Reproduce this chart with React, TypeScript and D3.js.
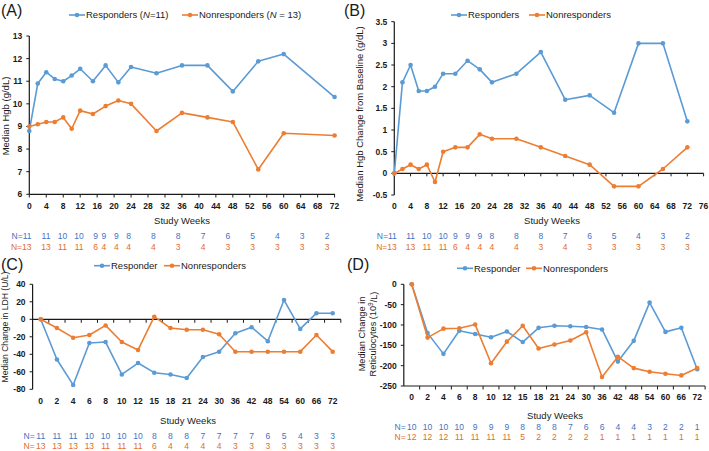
import React from 'react';
import * as d3 from 'd3';

const BLUE = '#5B9BD5';
const ORANGE = '#ED7D31';
const NBLUE = '#4472C4';
const NORANGE = '#E36C2B';
const FONT = '"Liberation Sans", Arial, sans-serif';
const INK = '#1a1a1a';

// ---------- Panel A: median Hgb ----------
const weeksA = [0, 2, 4, 6, 8, 10, 12, 15, 18, 21, 24, 30, 36, 42, 48, 54, 60, 72];
const hgbResp = [8.8, 10.9, 11.4, 11.1, 11.0, 11.25, 11.55, 11.0, 11.7, 10.95, 11.63, 11.35, 11.7, 11.7, 10.55, 11.88, 12.2, 10.3];
const hgbNonresp = [9.0, 9.1, 9.2, 9.2, 9.4, 8.9, 9.7, 9.55, 9.9, 10.15, 10.0, 8.8, 9.6, 9.4, 9.2, 7.1, 8.7, 8.6];
const yTicksA = [6, 7, 8, 9, 10, 11, 12, 13];
const xTicksA = d3.range(0, 73, 4);

// ---------- Panel B: median Hgb change ----------
const weeksB = [0, 2, 4, 6, 8, 10, 12, 15, 18, 21, 24, 30, 36, 42, 48, 54, 60, 66, 72];
const chgResp = [0, 2.1, 2.5, 1.9, 1.9, 2.0, 2.3, 2.3, 2.6, 2.4, 2.1, 2.3, 2.8, 1.7, 1.8, 1.4, 3.0, 3.0, 1.2];
const chgNonresp = [0, 0.1, 0.2, 0.1, 0.2, -0.2, 0.5, 0.6, 0.6, 0.9, 0.8, 0.8, 0.6, 0.4, 0.2, -0.3, -0.3, 0.1, 0.6];
const yTicksB = [-0.5, 0, 0.5, 1, 1.5, 2, 2.5, 3, 3.5];
const xTicksB = d3.range(0, 77, 4);

// N rows for A and B
const nWeeksA = [0, 4, 8, 12, 16, 18, 21, 24, 30, 36, 42, 48, 54, 60, 66, 72];
const nWeeksB = [0, 4, 8, 12, 15, 18, 21, 24, 30, 36, 42, 48, 54, 60, 66, 72];
const nRespAB = ['11', '11', '10', '10', '9', '9', '9', '8', '8', '8', '7', '6', '5', '4', '3', '2'];
const nNonAB = ['13', '13', '11', '11', '6', '4', '4', '4', '4', '3', '4', '3', '3', '3', '3', '3'];

// ---------- Panels C and D: categorical weeks ----------
const catWeeks = ['0', '2', '4', '6', '8', '10', '12', '15', '18', '21', '24', '30', '36', '42', '48', '54', '60', '66', '72'];
const ldhResp = [0, -46, -75, -27, -26, -63, -50, -61, -63, -67, -43, -37, -16, -9, -25, 22, -11, 7, 7];
const ldhNonresp = [0, -10, -21, -18, -7, -26, -35, 3, -10, -12, -12, -17, -37, -37, -37, -37, -37, -18, -37];
const yTicksC = [-80, -60, -40, -20, 0, 20, 40];
const nRespC = ['11', '11', '11', '10', '10', '10', '10', '8', '8', '8', '7', '7', '7', '7', '6', '5', '4', '3', '3'];
const nNonC = ['13', '13', '13', '13', '11', '11', '11', '6', '4', '4', '4', '4', '3', '3', '3', '3', '3', '3', '3'];

const retResp = [0, -120, -171, -114, -122, -130, -116, -142, -107, -102, -103, -105, -111, -190, -139, -45, -117, -107, -209];
const retNonresp = [0, -131, -109, -108, -99, -194, -141, -102, -158, -148, -138, -118, -228, -178, -206, -215, -220, -224, -206];
const yTicksD = [-250, -200, -150, -100, -50, 0];
const nRespD = ['10', '10', '10', '10', '9', '9', '9', '8', '8', '8', '7', '6', '6', '4', '4', '3', '2', '2', '1'];
const nNonD = ['12', '12', '12', '11', '11', '11', '11', '5', '2', '2', '2', '2', '1', '1', '1', '1', '1', '1', '1'];

type Sc = (v: any) => number;

function Series({ xs, ys, x, y, color }: { xs: any[]; ys: number[]; x: Sc; y: Sc; color: string }) {
  const pts: [number, number][] = xs.map((v, i) => [x(v), y(ys[i])]);
  const d = d3.line()(pts) || '';
  return (
    <g>
      <path d={d} fill="none" stroke={color} strokeWidth={1.6} strokeLinejoin="round" />
      {pts.map((p, i) => (
        <circle key={i} cx={p[0]} cy={p[1]} r={2.3} fill={color} />
      ))}
    </g>
  );
}

function LegendItem({ x, y, color, children }: { x: number; y: number; color: string; children: any }) {
  return (
    <g>
      <line x1={x} x2={x + 16} y1={y} y2={y} stroke={color} strokeWidth={1.6} />
      <circle cx={x + 8} cy={y} r={2.3} fill={color} />
      <text x={x + 17} y={y} dy="0.35em" fontSize={9.5} fill={INK}>
        {children}
      </text>
    </g>
  );
}

function YAxis({ x, y, ticks }: { x: number; y: any; ticks: number[] }) {
  const [r0, r1] = y.range();
  return (
    <g>
      <line x1={x} x2={x} y1={r0} y2={r1} stroke={INK} strokeWidth={1.2} />
      {ticks.map((t) => (
        <g key={t}>
          <line x1={x - 3} x2={x} y1={y(t)} y2={y(t)} stroke={INK} strokeWidth={1} />
          <text x={x - 7} y={y(t)} dy="0.35em" textAnchor="end" fontSize={8.5} fontWeight="bold" fill={INK}>
            {String(t)}
          </text>
        </g>
      ))}
    </g>
  );
}

function YTitle({ x, y, lines, size = 9.5 }: { x: number; y: number; lines: any[]; size?: number }) {
  return (
    <text transform={`translate(${x},${y}) rotate(-90)`} textAnchor="middle" fontSize={size} fill={INK}>
      {lines.map((l, i) => (
        <tspan key={i} x={0} dy={i === 0 ? `${-(lines.length - 1) * 0.6 + 0.35}em` : '1.2em'}>
          {l}
        </tspan>
      ))}
    </text>
  );
}

function NRow({ xs, labels, y, color, firstPrefix, prefixX }: { xs: number[]; labels: string[]; y: number; color: string; firstPrefix?: boolean; prefixX?: number }) {
  return (
    <g fontSize={8.5} fill={color}>
      {prefixX !== undefined && (
        <text x={prefixX} y={y} dy="0.35em" textAnchor="end">
          N=
        </text>
      )}
      {labels.map((l, i) =>
        firstPrefix && i === 0 ? (
          <text key={i} x={xs[i]} y={y} dy="0.35em" textAnchor="end">
            {'N=' + l}
          </text>
        ) : (
          <text key={i} x={xs[i]} y={y} dy="0.35em" textAnchor="middle">
            {l}
          </text>
        )
      )}
    </g>
  );
}

function PanelA() {
  const x = d3.scaleLinear().domain([0, 72]).range([29.3, 334.6]);
  const y = d3.scaleLinear().domain([6, 13]).range([194.3, 36]);
  const nx = d3.scaleLinear().domain([4, 72]).range([46, 327]);
  const nxs = nWeeksA.map((w, i) => (i === 0 ? nx(w) + 2 : nx(w)));
  return (
    <g>
      <text x={1} y={16} fontSize={16} fill={INK}>(A)</text>
      <LegendItem x={69} y={15} color={BLUE}>
        Responders (<tspan fontStyle="italic">N</tspan>=11)
      </LegendItem>
      <LegendItem x={182} y={15} color={ORANGE}>
        Nonresponders (<tspan fontStyle="italic">N</tspan> = 13)
      </LegendItem>
      <YAxis x={29.3} y={y} ticks={yTicksA} />
      <line x1={29.3} x2={335} y1={194.3} y2={194.3} stroke={INK} strokeWidth={1.2} />
      {xTicksA.map((t) => (
        <g key={t}>
          <line x1={x(t)} x2={x(t)} y1={194.3} y2={197.5} stroke={INK} strokeWidth={1} />
          <text x={x(t)} y={205.7} dy="0.35em" textAnchor="middle" fontSize={8.5} fontWeight="bold" fill={INK}>
            {t}
          </text>
        </g>
      ))}
      <Series xs={weeksA} ys={hgbResp} x={x} y={y} color={BLUE} />
      <Series xs={weeksA} ys={hgbNonresp} x={x} y={y} color={ORANGE} />
      <YTitle x={6} y={116} lines={['Median Hgb (g/dL)']} />
      <text x={182} y={220.5} dy="0.35em" textAnchor="middle" fontSize={9.5} fill={INK}>Study Weeks</text>
      <NRow xs={nxs} labels={nRespAB} y={236} color={NBLUE} firstPrefix />
      <NRow xs={nxs} labels={nNonAB} y={246.7} color={NORANGE} firstPrefix />
    </g>
  );
}

function PanelB() {
  const x = d3.scaleLinear().domain([0, 76]).range([394.3, 703.6]);
  const y = d3.scaleLinear().domain([-0.5, 3.5]).range([195, 21.7]);
  const nxs = nWeeksB.map((w, i) => (i === 0 ? x(w) + 2.5 : x(w)));
  const y0 = y(0);
  return (
    <g>
      <text x={344} y={16} fontSize={16} fill={INK}>(B)</text>
      <LegendItem x={451} y={15} color={BLUE}>Responders</LegendItem>
      <LegendItem x={529} y={15} color={ORANGE}>Nonresponders</LegendItem>
      <YAxis x={394.3} y={y} ticks={yTicksB} />
      <line x1={394.3} x2={703.6} y1={y0} y2={y0} stroke={INK} strokeWidth={1.2} />
      {xTicksB.map((t) => (
        <g key={t}>
          <line x1={x(t)} x2={x(t)} y1={y0} y2={y0 + 3} stroke={INK} strokeWidth={1} />
          <text x={x(t)} y={205.7} dy="0.35em" textAnchor="middle" fontSize={8.5} fontWeight="bold" fill={INK}>
            {t}
          </text>
        </g>
      ))}
      <Series xs={weeksB} ys={chgResp} x={x} y={y} color={BLUE} />
      <Series xs={weeksB} ys={chgNonresp} x={x} y={y} color={ORANGE} />
      <YTitle x={360} y={114} lines={['Median Hgb Change from Baseline (g/dL)']} />
      <text x={552} y={220.5} dy="0.35em" textAnchor="middle" fontSize={9.5} fill={INK}>Study Weeks</text>
      <NRow xs={nxs} labels={nRespAB} y={236} color={NBLUE} firstPrefix />
      <NRow xs={nxs} labels={nNonAB} y={246.7} color={NORANGE} firstPrefix />
    </g>
  );
}

function CatPanel({
  left, right, y, yTicks, axisY, labelY, resp, non, nResp, nNon, nY1, nY2, titleX, titleLines, titleY, titleSize, swX, swY, letter, letterX, legX1, legX2, legY,
}: any) {
  const x = d3.scalePoint<string>().domain(catWeeks).range([left, right]).padding(0.5);
  const step = x.step();
  const bounds = d3.range(catWeeks.length + 1).map((i) => left + i * step);
  const centers = catWeeks.map((c) => x(c) as number);
  return (
    <g>
      <text x={letterX} y={270} fontSize={16} fill={INK}>{letter}</text>
      <LegendItem x={legX1} y={legY} color={BLUE}>Responder</LegendItem>
      <LegendItem x={legX2} y={legY} color={ORANGE}>Nonresponders</LegendItem>
      <YAxis x={left} y={y} ticks={yTicks} />
      <line x1={left} x2={right} y1={axisY} y2={axisY} stroke={INK} strokeWidth={1.2} />
      {bounds.slice(1).map((b, i) => (
        <line key={i} x1={b} x2={b} y1={axisY} y2={axisY + 3.5} stroke={INK} strokeWidth={1} />
      ))}
      {catWeeks.map((c) => (
        <text key={c} x={x(c)} y={labelY} dy="0.35em" textAnchor="middle" fontSize={8.5} fontWeight="bold" fill={INK}>
          {c}
        </text>
      ))}
      <Series xs={catWeeks} ys={resp} x={x as any} y={y} color={BLUE} />
      <Series xs={catWeeks} ys={non} x={x as any} y={y} color={ORANGE} />
      <YTitle x={titleX} y={titleY} lines={titleLines} size={titleSize} />
      <text x={swX} y={swY} dy="0.35em" textAnchor="middle" fontSize={9.5} fill={INK}>Study Weeks</text>
      <NRow xs={centers} labels={nResp} y={nY1} color={NBLUE} prefixX={centers[0] - 6} />
      <NRow xs={centers} labels={nNon} y={nY2} color={NORANGE} prefixX={centers[0] - 6} />
    </g>
  );
}

export default function App() {
  const yC = d3.scaleLinear().domain([-80, 40]).range([389.3, 284.3]);
  const yD = d3.scaleLinear().domain([-250, 0]).range([386, 284.3]);
  return (
    <svg
      width={709}
      height={451}
      viewBox="0 0 709 451"
      style={{ position: 'absolute', left: 0, top: 0, background: '#fff' }}
      fontFamily={FONT}
    >
      <rect width={709} height={451} fill="#fff" />
      <PanelA />
      <PanelB />
      <CatPanel
        left={32.6} right={340.8} y={yC} yTicks={yTicksC} axisY={yC(0)} labelY={401}
        resp={ldhResp} non={ldhNonresp} nResp={nRespC} nNon={nNonC} nY1={436.5} nY2={446.3}
        titleX={5} titleY={327} titleSize={8.6} titleLines={['Median Change in LDH (U/L)']}
        swX={188} swY={421} letter="(C)" letterX={1} legX1={94} legX2={164} legY={265.7}
      />
      <CatPanel
        left={403.8} right={705.1} y={yD} yTicks={yTicksD} axisY={386} labelY={397.3}
        resp={retResp} non={retNonresp} nResp={nRespD} nNon={nNonD} nY1={426.7} nY2={437.3}
        titleX={367} titleY={334} titleSize={9.2}
        titleLines={['Median Change in', <tspan key="r">Reticulocytes (10<tspan dy="-0.4em" fontSize="0.7em">9</tspan><tspan dy="0.4em">/L)</tspan></tspan>]}
        swX={555} swY={415.3} letter="(D)" letterX={347} legX1={457} legX2={526} legY={268.3}
      />
    </svg>
  );
}
